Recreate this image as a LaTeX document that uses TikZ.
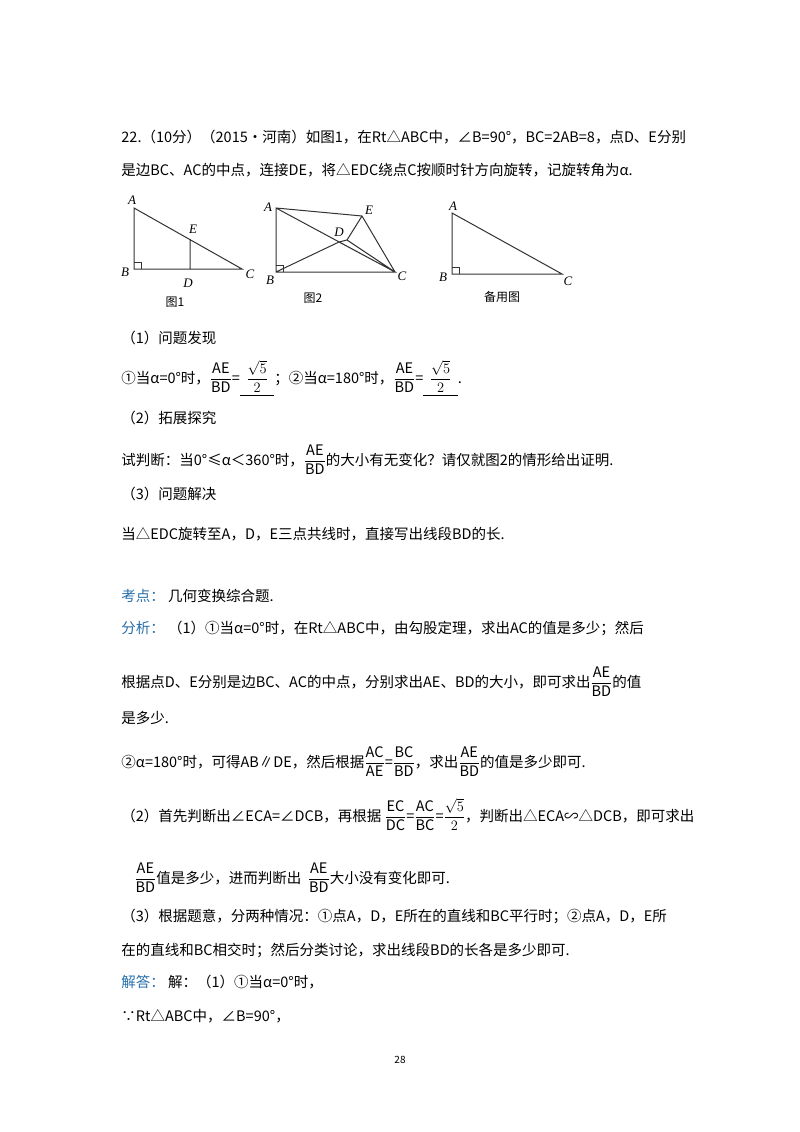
\documentclass[tikz,border=0pt]{standalone}
\usepackage{fontspec}
\setmainfont{Noto Sans CJK SC}
\newfontfamily\tms{Liberation Serif}
\usepackage{amsmath}
\definecolor{kd}{RGB}{40,110,170}
\begin{document}
\begin{tikzpicture}[x=1pt,y=-1pt,line width=0.9pt,
  t/.style={anchor=base west,inner sep=0,font=\fontsize{14.5}{16}\selectfont},
  lb/.style={font=\tms\itshape\fontsize{13}{14}\selectfont,inner sep=0},
  figcap/.style={font=\fontsize{12}{14}\selectfont,inner sep=0},
  fig/.style={draw=black!80,line width=1pt}]
\useasboundingbox[fill=white] (0,0) rectangle (800,1132);
\newcommand\fr[2]{$\dfrac{\mathrm{#1}}{\mathrm{#2}}$}
\newcommand\sq{$\dfrac{\sqrt5}{2}$}
\node[t] (l1) at (121,142) {22.（10分）（2015•河南）如图1，在Rt△ABC中，∠B=90°，BC=2AB=8，点D、E分别};
\node[t] (l2) at (121,175) {是边BC、AC的中点，连接DE，将△EDC绕点C按顺时针方向旋转，记旋转角为α.};
% fig1
\coordinate (A1) at (134,208); \coordinate (B1) at (134,269); \coordinate (C1) at (242,269);
\coordinate (E1) at (190,239); \coordinate (D1) at (190,269);
\draw[fig] (A1)--(B1)--(C1)--cycle (E1)--(D1);
\draw[fig,line width=0.6pt] (134,262)-|(141,269);
\node[lb] (a1) at (132,200) {A}; \node[lb] (e1) at (193,229) {E}; \node[lb] (b1) at (125,272) {B};
\node[lb] (d1) at (188,283) {D}; \node[lb] (c1) at (250,274) {C};
\node[figcap] (f1) at (175,302) {图1};
% fig2
\coordinate (A2) at (276,208); \coordinate (B2) at (276,272); \coordinate (C2) at (395,272);
\coordinate (E2) at (362,216); \coordinate (D2) at (339,242); \coordinate (D3) at (347,240);
\draw[fig] (A2)--(B2)--(C2)--cycle (A2)--(E2)--(C2) (B2)--(D2)--(D3)--(E2) (D2)--(C2) (D3)--(C2);
\draw[fig,line width=0.6pt] (276,265)-|(283,272);
\node[lb] (a2) at (268,207) {A}; \node[lb] (e2) at (369,210) {E}; \node[lb] (d2) at (339,232) {D};
\node[lb] (b2) at (270,280) {B}; \node[lb] (c2) at (402,276) {C};
\node[figcap] (f2) at (313,298) {图2};
% fig3
\coordinate (A3) at (452,213); \coordinate (B3) at (452,274); \coordinate (C3) at (562,274);
\draw[fig] (A3)--(B3)--(C3)--cycle;
\draw[fig,line width=0.6pt] (452,267)-|(459,274);
\node[lb] (a3) at (453,206) {A}; \node[lb] (b3) at (443,277) {B}; \node[lb] (c3) at (568,281) {C};
\node[figcap] (f3) at (502,297) {备用图};
%
\node[t] (l3) at (121,343) {（1）问题发现};
\node[t] (l4) at (121,383) {①当α=0°时，\fr{AE}{BD}=\underline{\ \ \sq\ \ }；②当α=180°时，\fr{AE}{BD}=\underline{\ \ \sq\ \ }.};
\node[t] (l5) at (121,423) {（2）拓展探究};
\node[t] (l6) at (121,465) {试判断：当0°≤α＜360°时，\fr{AE}{BD}的大小有无变化？请仅就图2的情形给出证明.};
\node[t] (l7) at (121,499) {（3）问题解决};
\node[t] (l8) at (121,539) {当△EDC旋转至A，D，E三点共线时，直接写出线段BD的长.};
\node[t] (l9) at (121,601) {\textcolor{kd}{考点：}\ 几何变换综合题.};
\node[t] (l10) at (121,633) {\textcolor{kd}{分析：}\ （1）①当α=0°时，在Rt△ABC中，由勾股定理，求出AC的值是多少；然后};
\node[t] (l11) at (121,687) {根据点D、E分别是边BC、AC的中点，分别求出AE、BD的大小，即可求出\fr{AE}{BD}的值};
\node[t] (l12) at (121,723) {是多少.};
\node[t] (l13) at (121,767) {②α=180°时，可得AB∥DE，然后根据\fr{AC}{AE}=\fr{BC}{BD}，求出\fr{AE}{BD}的值是多少即可.};
\node[t] (l14) at (121,821) {（2）首先判断出∠ECA=∠DCB，再根据 \fr{EC}{DC}=\fr{AC}{BC}=\sq，判断出△ECA∽△DCB，即可求出};
\node[t] (l15) at (134,883) {\fr{AE}{BD}值是多少，进而判断出\ \ \fr{AE}{BD}大小没有变化即可.};
\node[t] (l16) at (121,921) {（3）根据题意，分两种情况：①点A，D，E所在的直线和BC平行时；②点A，D，E所};
\node[t] (l17) at (121,955) {在的直线和BC相交时；然后分类讨论，求出线段BD的长各是多少即可.};
\node[t] (l18) at (121,987) {\textcolor{kd}{解答：}\ 解：（1）①当α=0°时，};
\node[t] (l19) at (121,1021) {∵Rt△ABC中，∠B=90°，};
\node[inner sep=0,font=\fontsize{10}{12}\selectfont] (pg) at (400,1060) {28};
\end{tikzpicture}
\end{document}
